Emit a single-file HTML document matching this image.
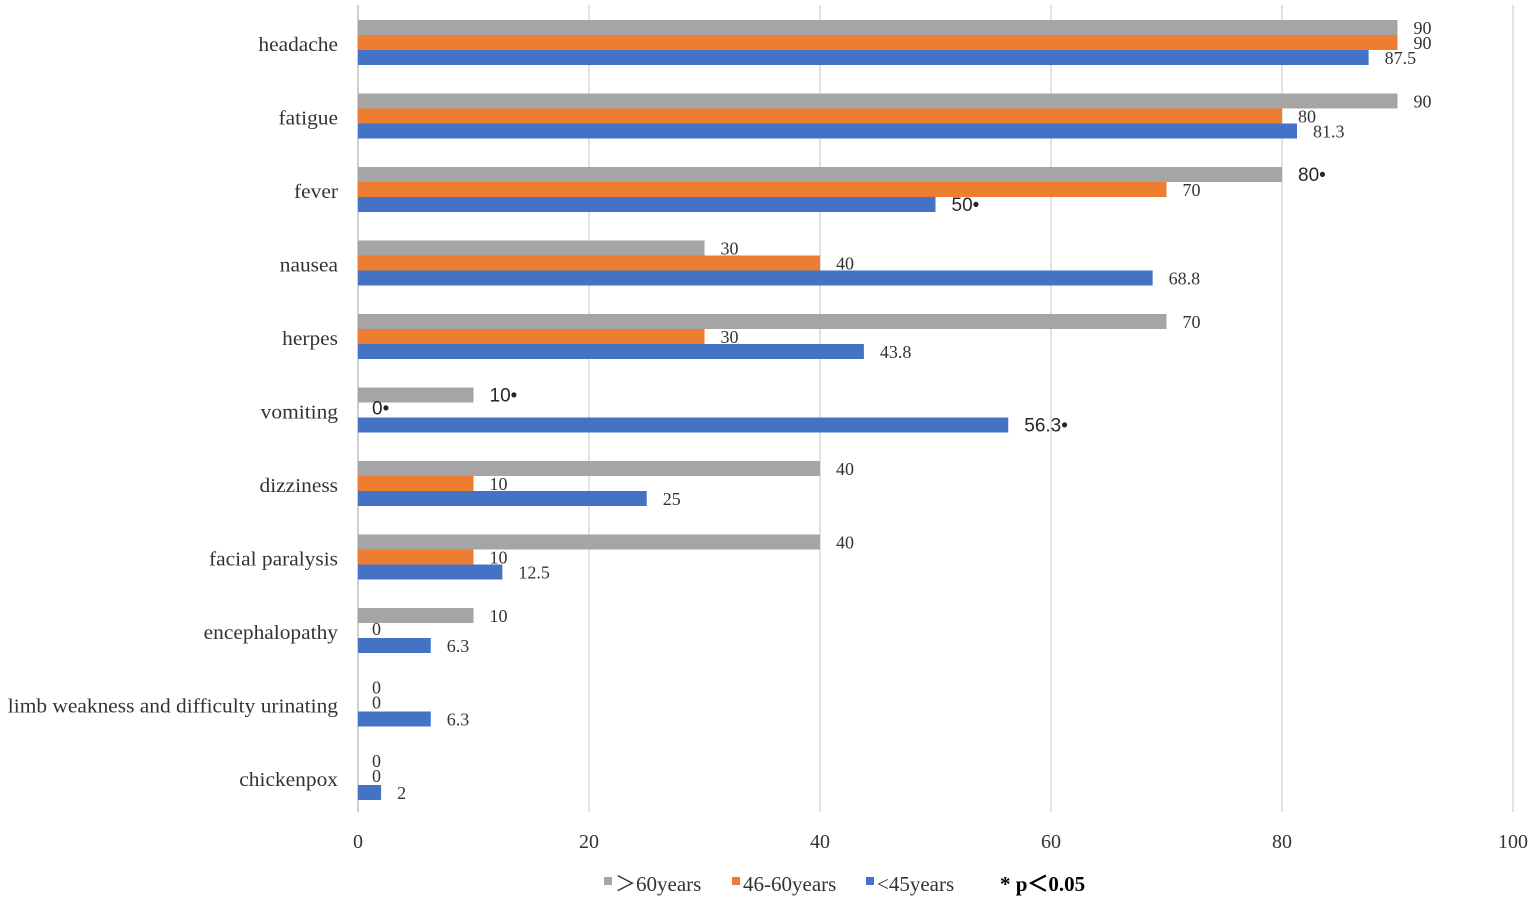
<!DOCTYPE html>
<html><head><meta charset="utf-8"><style>
body{margin:0;background:#fff;width:1535px;height:902px;overflow:hidden}
svg text{font-family:"Liberation Serif",serif;fill:#333}
</style></head><body>
<svg id="chart" width="1535" height="902" xmlns="http://www.w3.org/2000/svg"></svg>
<script>
const categories=["headache","fatigue","fever","nausea","herpes","vomiting","dizziness","facial paralysis","encephalopathy","limb weakness and difficulty urinating","chickenpox"];
const over60=[90,90,80,30,70,10,40,40,10,0,0];
const mid=[90,80,70,40,30,0,10,10,0,0,0];
const under45=[87.5,81.3,50,68.8,43.8,56.3,25,12.5,6.3,6.3,2];
const over60Sig=[false,false,true,false,false,true,false,false,false,false,false];
const midSig=[false,false,false,false,false,true,false,false,false,false,false];
const under45Sig=[false,false,true,false,false,true,false,false,false,false,false];
const xTicks=[0,20,40,60,80,100];
const svg=document.getElementById('chart');
const NS='http://www.w3.org/2000/svg';
const x=v=>358+v*11.55;
const yc=i=>44+i*73.5;
function mk(t,a){const e=document.createElementNS(NS,t);for(const k in a)e.setAttribute(k,a[k]);svg.appendChild(e);return e;}
xTicks.forEach(t=>{
 const l=mk('line',{x1:x(t),x2:x(t),y1:5,y2:812,stroke:t===0?'#bfbfbf':'#d9d9d9','stroke-width':1.5});
 
 
 const tx=mk('text',{x:x(t),y:848,'text-anchor':'middle','font-size':20});
 tx.textContent=t;
 
 
});
const series=[[over60,over60Sig,'#a5a5a5',-24,'over60'],[mid,midSig,'#ed7d31',-9,'mid'],[under45,under45Sig,'#4472c4',6,'under45']];
categories.forEach((c,i)=>{
 const t=mk('text',{x:0,y:yc(i)+7,'text-anchor':'end','font-size':20.5,transform:'translate(338,0) scale(1.045,1)'});
 t.textContent=c;
 
 
 series.forEach(([vals,sig,col,off,nm])=>{
  const v=vals[i];const top=yc(i)+off;
  const r=mk('rect',{x:x(0),y:top,width:x(v)-x(0),height:15,fill:col});
  
  
  const lb=mk('text',{x:x(v)+(v===0?14:16),y:top+(v===0?12:14),'font-size':sig[i]?19:18});
  if(sig[i]){lb.setAttribute('style','font-family:"Liberation Sans",sans-serif;fill:#262626');lb.textContent=v+'\u2022';}
  else lb.textContent=v;
  
  
 });
});
const leg=[['#a5a5a5','＞60years',604],['#ed7d31','46-60years',732],['#4472c4','<45years',866]];
leg.forEach(([c,l,lx])=>{
 const r=mk('rect',{x:lx,y:877,width:8,height:8,fill:c});
 
 
 const t=mk('text',{x:lx+11,y:891,'font-size':21});
 t.textContent=l;
 
 
});
const n=mk('text',{x:1000,y:891,'font-size':21,'font-weight':'bold'});
n.textContent='* p＜0.05';
n.setAttribute('style','fill:#000');


</script>
</body></html>
